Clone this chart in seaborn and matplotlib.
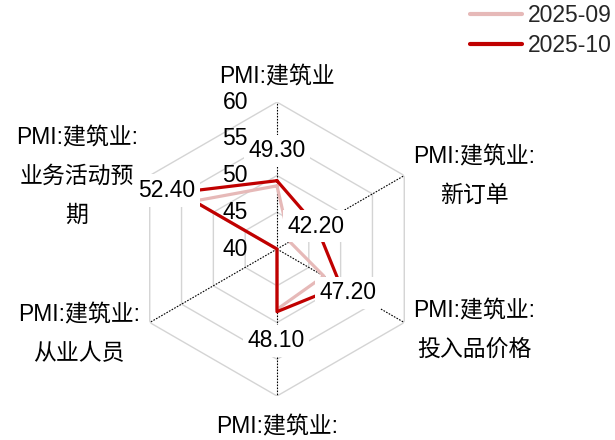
import numpy as np
import pandas as pd
import matplotlib
matplotlib.use("Agg")
import matplotlib.pyplot as plt
import seaborn as sns
from matplotlib.lines import Line2D

# Indicators (clockwise from the top) and their wrapped display labels
categories = [
    "PMI:建筑业",
    "PMI:建筑业:新订单",
    "PMI:建筑业:投入品价格",
    "PMI:建筑业:销售价格",
    "PMI:建筑业:从业人员",
    "PMI:建筑业:业务活动预期",
]
axis_labels = [
    "PMI:建筑业",
    "PMI:建筑业:\n新订单",
    "PMI:建筑业:\n投入品价格",
    "PMI:建筑业:\n销售价格",
    "PMI:建筑业:\n从业人员",
    "PMI:建筑业:\n业务活动预\n期",
]

# Each indicator has its own radial range
axis_min = [40.0, 36.0, 40.0, 40.0, 40.0, 40.0]
axis_max = [60.0, 56.0, 54.4, 59.0, 60.0, 56.1]

# Radial ticks shown on the first indicator
tick_values = [40, 45, 50, 55, 60]

series_names = ["2025-09", "2025-10"]
values_2025_09 = [48.6, 38.0, 45.3, 47.8, 40.0, 50.5]
values_2025_10 = [49.3, 42.2, 47.2, 48.1, 40.0, 52.4]

# Which points of the latest series carry a value label
labelled_2025_10 = [True, True, True, True, False, True]

colors = {"2025-09": "#E6B9B8", "2025-10": "#C00000"}
label_offsets = [(0, 30), (0, 0), (7, -7), (-1, -29), (0, 0), (-12, 2)]
axis_label_offsets = [(0, 14), (9, -1), (9, -8), (0, -19), (-10, -12), (-12, -1)]
axis_label_align = [("center", "bottom"), ("left", "center"), ("left", "center"),
                    ("center", "top"), ("right", "center"), ("right", "center")]

sns.set_theme(style="white")
plt.rcParams["font.family"] = ["Liberation Sans", "Noto Sans CJK SC", "DejaVu Sans"]
FS = 16.5

n = len(categories)
theta = np.arange(n) * 2 * np.pi / n
theta_closed = np.append(theta, 2 * np.pi)
amin = np.array(axis_min)
amax = np.array(axis_max)


def scaled(vals):
    return (np.asarray(vals) - amin) / (amax - amin)


rows = []
for name, vals in zip(series_names, [values_2025_09, values_2025_10]):
    r = scaled(vals)
    r = np.clip(np.append(r, r[0]), 0, 1)
    for t, rv in zip(theta_closed, r):
        rows.append({"theta": t, "r": rv, "series": name})
df = pd.DataFrame(rows)

fig = plt.figure(figsize=(6.15, 4.4), dpi=100)
ax = fig.add_axes([0.2114, 0.1, 0.478, 0.668], projection="polar")
ax.set_theta_offset(np.pi / 2)
ax.set_theta_direction(-1)
ax.set_ylim(0, 1)
ax.axis("off")

# Hexagonal rings and dotted spokes
tick_r = [(v - axis_min[0]) / (axis_max[0] - axis_min[0]) for v in tick_values]
for lvl in tick_r[1:]:
    ax.plot(theta_closed, [lvl] * (n + 1), color="#D4D4D4", lw=1.0, zorder=1)
for t in theta:
    ax.plot([t, t], [0, 1], color="black", lw=0.8, ls=(0, (1.5, 1.2)), zorder=1.5)

sns.lineplot(data=df, x="theta", y="r", hue="series", hue_order=series_names,
             palette=colors, sort=False, estimator=None, linewidth=2.3,
             legend=False, ax=ax, zorder=3)

# Value labels for the latest month
r10 = scaled(values_2025_10)
for t, rv, v, show, off in zip(theta, r10, values_2025_10, labelled_2025_10, label_offsets):
    if not show:
        continue
    ax.annotate(f"{v:.2f}", xy=(t, max(rv, 0)), xytext=off, textcoords="offset pixels",
                ha="center", va="center", fontsize=FS, color="black",
                annotation_clip=False, zorder=6,
                bbox=dict(boxstyle="square,pad=0.2", fc="white", ec="none"))

# Radial tick labels, kept above the value-label boxes
for v, rv in zip(tick_values, tick_r):
    ax.annotate(str(v), xy=(0, rv), xytext=(-29, 0), textcoords="offset pixels",
                ha="right", va="center", fontsize=FS, color="black",
                annotation_clip=False, zorder=7)

# Indicator names
for t, lab, off, (ha, va) in zip(theta, axis_labels, axis_label_offsets, axis_label_align):
    ax.annotate(lab, xy=(t, 1), xytext=off, textcoords="offset pixels",
                ha=ha, va=va, multialignment="center", linespacing=1.85,
                fontsize=FS, color="black", annotation_clip=False)

handles = [Line2D([0], [0], color=colors[s], lw=3) for s in series_names]
fig.legend(handles, series_names, loc="upper right", bbox_to_anchor=(0.995, 0.99),
           frameon=False, handlelength=2.3, handletextpad=0.25, labelspacing=0.3,
           borderpad=0, borderaxespad=0, fontsize=FS)

fig.savefig("out.png", dpi=100)
